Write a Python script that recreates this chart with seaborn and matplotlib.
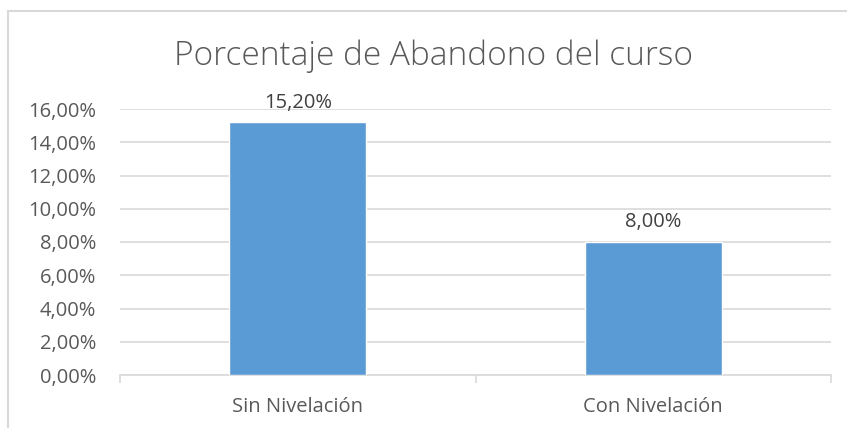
import matplotlib
matplotlib.use('Agg')
import matplotlib.pyplot as plt
import seaborn as sns
import pandas as pd
from matplotlib.patches import Rectangle
from matplotlib.ticker import FuncFormatter

# datos
categorias = ['Sin Nivelación', 'Con Nivelación']
abandono = [0.152, 0.08]
etiquetas = ['15,20%', '8,00%']
yticks = [0, 0.02, 0.04, 0.06, 0.08, 0.10, 0.12, 0.14, 0.16]

sns.set_style('white')
plt.rcParams['font.family'] = ['Open Sans', 'DejaVu Sans']

df = pd.DataFrame({'categoria': categorias, 'abandono': abandono})

fig = plt.figure(figsize=(8.47, 4.28), dpi=100)
ax = fig.add_axes([120 / 847, 1 - 375 / 428, 711 / 847, 266 / 428])

sns.barplot(data=df, x='categoria', y='abandono', color='#5B9BD5',
            width=0.385, saturation=1, ax=ax, zorder=3)

ax.set_ylim(0, 0.16)
ax.set_xlim(-0.5, 1.5)
ax.set_yticks(yticks)
ax.yaxis.set_major_formatter(FuncFormatter(lambda v, p: f'{v * 100:.2f}%'.replace('.', ',')))
ax.grid(axis='y', color='#D9D9D9', linewidth=1.2, zorder=0)
ax.set_axisbelow(True)

for s in ['top', 'right', 'left']:
    ax.spines[s].set_visible(False)
ax.spines['bottom'].set_color('#D9D9D9')
ax.spines['bottom'].set_linewidth(1.2)

# marcas en los límites de las categorías
ax.set_xticks([-0.5, 0.5, 1.5], minor=True)
ax.tick_params(axis='x', which='minor', length=6, width=1.2, color='#D9D9D9', bottom=True)
ax.tick_params(axis='x', which='major', length=0, pad=16, labelsize=14.5, labelcolor='#595959')
ax.tick_params(axis='y', length=0, pad=17, labelsize=14.5, labelcolor='#595959')
ax.set_xlabel('')
ax.set_ylabel('')

for i, (v, t) in enumerate(zip(abandono, etiquetas)):
    ax.annotate(t, (i, v), xytext=(0, 7), textcoords='offset points',
                ha='center', va='bottom', fontsize=14.5, color='#404040')

fig.text(434 / 847, 1 - 56 / 428, 'Porcentaje de Abandono del curso',
         ha='center', va='center', fontsize=24, color='#595959', fontweight='light')

# borde del gráfico
fig.patches.append(Rectangle((8 / 847, -0.1), 1.2, 1 - 11 / 428 + 0.1,
                             transform=fig.transFigure, fill=False,
                             edgecolor='#D9D9D9', linewidth=1.5))

fig.savefig('out.png', dpi=100)
